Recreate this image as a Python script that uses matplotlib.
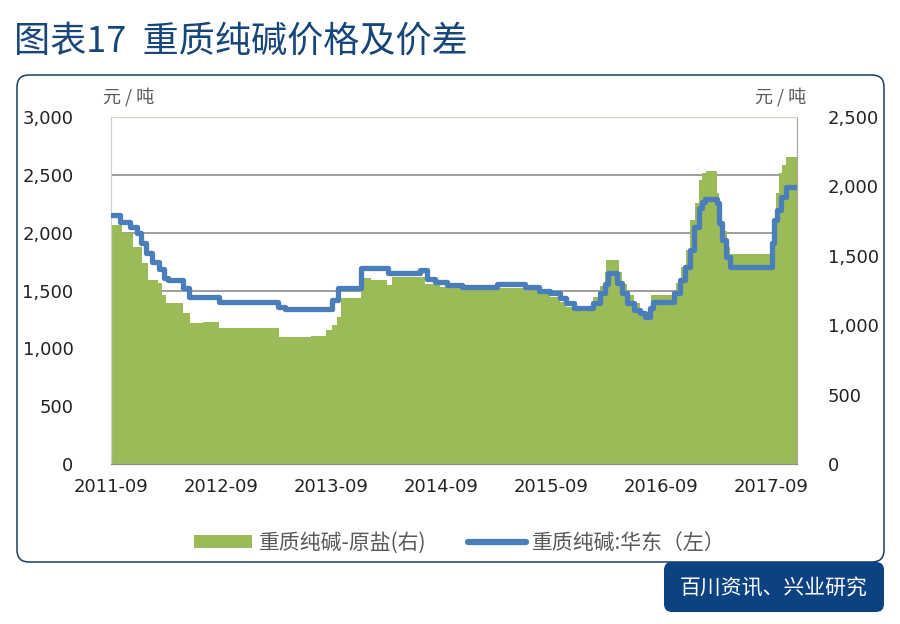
import matplotlib.pyplot as plt
import matplotlib.dates as mdates
from matplotlib.patches import FancyBboxPatch, Patch
from matplotlib.lines import Line2D
from matplotlib.transforms import IdentityTransform
from matplotlib.ticker import FuncFormatter
import pandas as pd

plt.rcParams['font.family'] = ['DejaVu Sans', 'Noto Sans CJK SC']
cjk = ['Noto Sans CJK SC', 'DejaVu Sans']

# 重质纯碱:华东 (left axis), step points
east_dates = ["2011-09-01", "2011-10-01", "2011-11-03", "2011-11-25", "2011-12-08",
              "2011-12-25", "2012-01-15", "2012-02-07", "2012-02-24", "2012-03-07",
              "2012-04-26", "2012-05-16", "2012-08-24", "2013-03-07", "2013-03-30",
              "2013-09-04", "2013-09-23", "2013-12-08", "2014-03-07", "2014-06-24",
              "2014-07-17", "2014-08-13", "2014-09-20", "2014-11-08", "2015-03-07",
              "2015-06-08", "2015-07-24", "2015-08-27", "2015-09-30", "2015-10-22",
              "2015-11-15", "2016-01-17", "2016-02-10", "2016-02-26", "2016-03-07",
              "2016-04-06", "2016-04-22", "2016-05-09", "2016-06-02", "2016-06-22",
              "2016-07-08", "2016-07-25", "2016-08-04", "2016-10-13", "2016-11-02",
              "2016-11-19", "2016-12-05", "2016-12-18", "2017-01-05", "2017-01-14",
              "2017-01-24", "2017-03-04", "2017-03-13", "2017-03-23", "2017-04-03",
              "2017-04-16", "2017-09-03", "2017-09-10", "2017-09-20", "2017-10-03",
              "2017-10-19", "2017-11-25"]
east_price = [2150, 2090, 2050, 2000, 1910, 1820, 1745, 1690, 1610, 1590,
              1520, 1445, 1400, 1357, 1340, 1417, 1520, 1694, 1650, 1677,
              1600, 1573, 1547, 1530, 1556, 1530, 1495, 1478, 1435, 1390,
              1348, 1390, 1478, 1560, 1650, 1565, 1478, 1390, 1330, 1305,
              1270, 1350, 1400, 1478, 1590, 1700, 1850, 2050, 2213, 2265,
              2290, 2255, 2083, 1936, 1790, 1703, 1910, 2109, 2195, 2308,
              2394, 2394]

# 重质纯碱-原盐 (right axis), step points
spread_dates = ["2011-09-01", "2011-10-07", "2011-11-13", "2011-12-12", "2012-01-02",
                "2012-02-04", "2012-02-17", "2012-03-01", "2012-04-26", "2012-05-19",
                "2012-07-02", "2012-08-24", "2013-03-10", "2013-06-25", "2013-08-14",
                "2013-09-04", "2013-09-20", "2013-10-03", "2013-12-08", "2014-01-11",
                "2014-03-04", "2014-03-20", "2014-07-08", "2014-08-27", "2014-11-02",
                "2015-03-13", "2015-06-05", "2015-07-24", "2015-08-27", "2015-09-30",
                "2015-10-22", "2015-11-15", "2016-01-08", "2016-01-17", "2016-02-10",
                "2016-02-26", "2016-03-03", "2016-04-13", "2016-04-22", "2016-05-09",
                "2016-06-02", "2016-06-22", "2016-07-08", "2016-07-28", "2016-10-06",
                "2016-10-19", "2016-11-05", "2016-11-22", "2016-12-05", "2016-12-22",
                "2017-01-05", "2017-01-14", "2017-01-28", "2017-03-04", "2017-03-13",
                "2017-03-23", "2017-04-06", "2017-04-16", "2017-09-03", "2017-09-17",
                "2017-09-27", "2017-10-06", "2017-10-19", "2017-11-25"]
spread = [1722, 1664, 1563, 1448, 1326, 1304, 1218, 1160, 1088, 1016,
          1024, 980, 915, 922, 965, 1001, 1059, 1196, 1340, 1326,
          1290, 1347, 1300, 1275, 1260, 1270, 1250, 1225, 1205, 1170,
          1130, 1100, 1130, 1203, 1280, 1380, 1470, 1380, 1300, 1220,
          1160, 1080, 1050, 1218, 1240, 1304, 1420, 1542, 1758, 1880,
          2046, 2096, 2110, 1952, 1800, 1680, 1560, 1513, 1592, 1952,
          2096, 2154, 2212, 2212]

tick_dates = ["2011-09-01", "2012-09-01", "2013-09-01", "2014-09-01",
              "2015-09-01", "2016-09-01", "2017-09-01"]

green = "#9bbb59"
blue = "#4a7ebb"
navy = "#17467a"

fig = plt.figure(figsize=(9, 6.24), dpi=100)

# outer rounded frame and source box
frame = FancyBboxPatch((17, 62), 867, 487, boxstyle="round,pad=0,rounding_size=12",
                       transform=IdentityTransform(), fill=False, ec="#1f3a5c", lw=1.1)
fig.patches.append(frame)
src = FancyBboxPatch((664, 12), 220, 50, boxstyle="round,pad=0,rounding_size=8",
                     transform=IdentityTransform(), fc="#0c4282", ec="none")
fig.patches.append(src)
fig.text(774 / 900, 1 - 588 / 624, "百川资讯、兴业研究", color="white", fontsize=15,
         ha="center", va="center", family=cjk, fontweight="medium")

fig.text(14 / 900, 1 - 42 / 624, "图表17  重质纯碱价格及价差", color=navy, fontsize=26,
         ha="left", va="center", family=cjk, fontweight="medium")

ax_r = fig.add_axes([111 / 900, 1 - 464 / 624, 686 / 900, 347 / 624])
ax_l = ax_r.twinx()

sd = pd.to_datetime(spread_dates)
ed = pd.to_datetime(east_dates)

ax_r.fill_between(sd, spread, 0, step="post", color=green, lw=0, zorder=2)
ax_r.set_ylim(0, 2500)
ax_r.set_yticks(range(0, 2501, 500))
ax_r.yaxis.tick_right()

ax_l.step(ed, east_price, where="post", color=blue, lw=3.8,
          solid_joinstyle="round", solid_capstyle="round", zorder=3)
ax_l.set_ylim(0, 3000)
ax_l.set_yticks(range(0, 3001, 500))
ax_l.yaxis.tick_left()

# gridlines follow the left axis, drawn under the green area
for v in range(500, 3000, 500):
    ax_r.axhline(v * 2500 / 3000, color="#8c8c8c", lw=1.2, zorder=1)

ax_r.set_xlim(pd.Timestamp("2011-08-31"), pd.Timestamp("2017-11-26"))
ax_r.set_xticks(pd.to_datetime(tick_dates))
ax_r.xaxis.set_major_formatter(mdates.DateFormatter("%Y-%m"))

fmt = FuncFormatter(lambda v, p: f"{int(v):,}")
for a in (ax_l, ax_r):
    a.yaxis.set_major_formatter(fmt)
    a.tick_params(length=0, labelsize=13, colors="#222222")
ax_r.tick_params(axis="x", pad=10)
ax_l.tick_params(axis="y", pad=27)
ax_r.tick_params(axis="y", pad=22)

for a in (ax_l, ax_r):
    a.spines["top"].set_color("#d4d4c4")
    a.spines["left"].set_color("#d0d0d0")
    a.spines["right"].set_color("#a6a6a6")
    a.spines["bottom"].set_color("#8c8c8c")

fig.text(103 / 900, 1 - 97 / 624, "元 / 吨", fontsize=13, color="#595959",
         ha="left", va="center", family=cjk)
fig.text(806 / 900, 1 - 97 / 624, "元 / 吨", fontsize=13, color="#595959",
         ha="right", va="center", family=cjk)

handles = [Patch(facecolor=green, edgecolor="none"),
           Line2D([0], [0], color=blue, lw=4.5, solid_capstyle="round")]
fig.legend(handles, ["重质纯碱-原盐(右)", "重质纯碱:华东（左）"], loc="center",
           bbox_to_anchor=(460 / 900, 1 - 543 / 624), ncol=2, frameon=False,
           prop={"family": cjk, "size": 15}, labelcolor="#595959",
           handlelength=2.8, handleheight=0.6, handletextpad=0.3, columnspacing=2.0)

fig.savefig("out.png", dpi=100)
